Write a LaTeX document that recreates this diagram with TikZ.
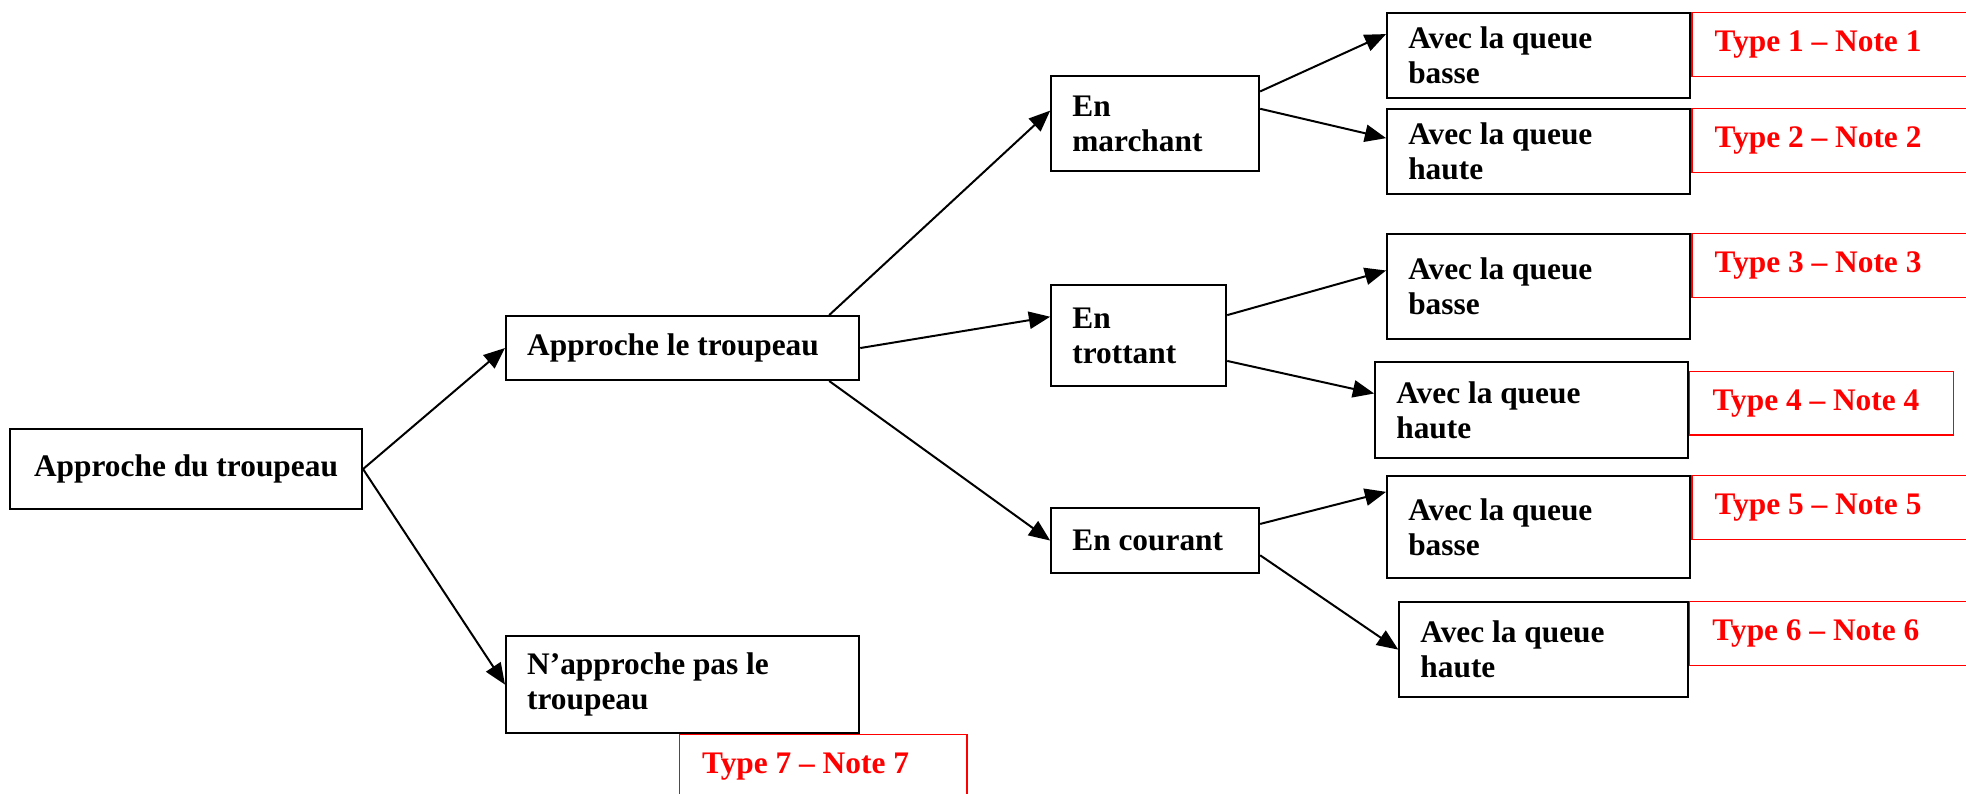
\documentclass[tikz,border=0pt]{standalone}
\usepackage{fontspec}
\setmainfont{Liberation Serif}
\usetikzlibrary{arrows.meta, positioning, backgrounds}
\definecolor{cred}{HTML}{FF0000}
\tikzset{
  every picture/.style={line width=0.75pt},
  box/.style={draw=black, rectangle, align=flush left, inner xsep=0.28cm, inner ysep=0pt, font=\fontsize{11.8}{13.2}\selectfont\bfseries},
  note/.style={draw=cred, text=cred, rectangle, anchor=north west, align=flush left, inner xsep=0.3cm, inner ysep=0pt, minimum height=0.84cm, text width=3.4cm, font=\fontsize{11.8}{13.2}\selectfont\bfseries},
  arrow/.style={-{Triangle[length=8pt, width=6.5pt]}, draw=black, line width=0.75pt},
}

\begin{document}
\begin{tikzpicture}
  \useasboundingbox (0,0) rectangle (25.99,-10.485);
  % approach
  \node[box, align=center, minimum width=4.654cm, minimum height=1.058cm] (root) at (2.459,-6.201) {Approche du troupeau};
  \node[box, text width=4.11cm, minimum height=0.846cm] (app) at (9.024,-4.601) {Approche le troupeau};
  \node[box, text width=4.11cm, minimum height=1.283cm] (napp) at (9.024,-9.050) {N’approche pas le\\troupeau};
  % gait
  \node[box, text width=2.19cm, minimum height=1.256cm] (mar) at (15.271,-1.633) {En\\marchant};
  \node[box, text width=1.754cm, minimum height=1.335cm] (tro) at (15.053,-4.436) {En\\trottant};
  \node[box, text width=2.19cm, minimum height=0.859cm] (cou) at (15.271,-7.146) {En courant};
  % tail
  \node[box, text width=3.45cm, minimum height=1.124cm] (l1) at (20.342,-0.734) {Avec la queue\\basse};
  \node[box, text width=3.45cm, minimum height=1.124cm] (l2) at (20.342,-2.003) {Avec la queue\\haute};
  \node[box, text width=3.45cm, minimum height=1.388cm] (l3) at (20.342,-3.788) {Avec la queue\\basse};
  \node[box, text width=3.58cm, minimum height=1.269cm] (l4) at (20.249,-5.421) {Avec la queue\\haute};
  \node[box, text width=3.45cm, minimum height=1.349cm] (l5) at (20.342,-6.968) {Avec la queue\\basse};
  \node[box, text width=3.26cm, minimum height=1.256cm] (l6) at (20.408,-8.588) {Avec la queue\\haute};
  % notes
  \begin{scope}[on background layer]
    \clip (0,0) rectangle (25.99,-10.485);
    \foreach \k in {1,2,3,5,6} \node[note] (n\k) at (l\k.north east) {Type \k{} – Note \k};
    \node[note, text width=2.89cm] (n4) at ([yshift=-0.13cm]l4.north east) {Type 4 – Note 4};
    \node[note, text width=3.2cm] (n7) at ([xshift=2.3cm]napp.south west) {Type 7 – Note 7};
  \end{scope}
  % arrows
  \draw[arrow] (root.east) -- (app.west);
  \draw[arrow] (root.east) -- (napp.west);
  \draw[arrow] ([xshift=-0.41cm]app.north east) -- (mar.173);
  \draw[arrow] (app.east) -- (tro.168);
  \draw[arrow] ([xshift=-0.41cm]app.south east) -- (cou.west);
  \foreach \a/\b in {mar.17/l1.172, mar.8/l2.175, tro.13/l3.174, tro.-16/l4.174, cou.9/l5.167, cou.-8/l6.west}
    \draw[arrow] (\a) -- (\b);
\end{tikzpicture}
\end{document}
